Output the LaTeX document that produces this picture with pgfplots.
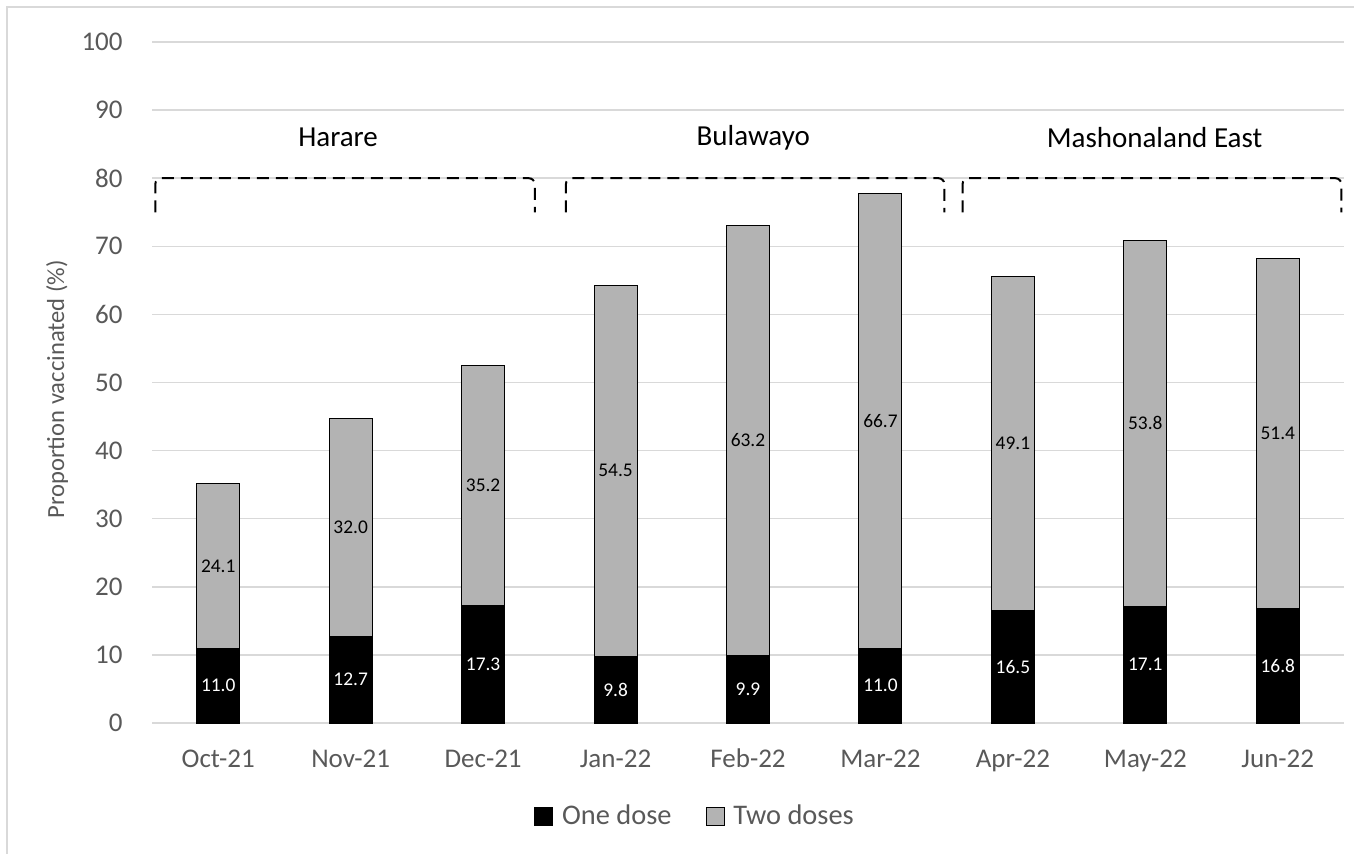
\documentclass[border=0pt]{standalone}
\usepackage{pgfplots}
\pgfplotsset{compat=1.18}
\usepackage{pgfplotstable}
\usepackage{fontspec}
\setmainfont{Carlito}
\definecolor{txt}{HTML}{595959}
\definecolor{gridc}{HTML}{D9D9D9}
\definecolor{bargray}{HTML}{B3B3B3}

\pgfplotstableread{
x one two
0 11.0 24.1
1 12.7 32.0
2 17.3 35.2
3 9.8 54.5
4 9.9 63.2
5 11.0 66.7
6 16.5 49.1
7 17.1 53.8
8 16.8 51.4
}\vacc

\begin{document}
\begin{tikzpicture}
\path[use as bounding box] (-76pt,-65pt) rectangle (601pt,361.5pt);
\draw[gridc, line width=0.75pt] (-72.5pt,-70pt) -- (-72.5pt,358pt) -- (610pt,358pt);
\begin{axis}[
    at={(0pt,0pt)}, anchor=south west,
    scale only axis,
    width=596pt, height=340.5pt,
    ybar stacked,
    bar width=21.5pt,
    xmin=-0.5, xmax=8.5,
    ymin=0, ymax=100,
    ytick={0,10,...,100},
    xtick={0,...,8},
    xticklabels={Oct-21,Nov-21,Dec-21,Jan-22,Feb-22,Mar-22,Apr-22,May-22,Jun-22},
    ymajorgrids,
    grid style={gridc, line width=0.75pt},
    axis line style={draw=none},
    major tick length=0pt,
    /pgf/number format/assume math mode=true,
    tick label style={font=\fontsize{13.5}{16}\selectfont, text=txt},
    yticklabel style={anchor=east, inner sep=0pt, xshift=-14.5pt},
    xticklabel style={anchor=base, inner sep=0pt, yshift=-22pt},
    ylabel={Proportion vaccinated (\%)},
    ylabel style={at={(axis description cs:-0.0797,0.49)}, anchor=center,
        font=\fontsize{12.3}{14}\selectfont, text=txt},
    clip=false,
    point meta=explicit,
    nodes near coords={\pgfmathprintnumber[fixed,fixed zerofill,precision=1]{\pgfplotspointmeta}},
    every node near coord/.style={anchor=center, font=\fontsize{9.7}{11}\selectfont},
    legend image code/.code={\draw[#1, line width=0.5pt] (0pt,-4.5pt) rectangle (9pt,4.5pt);
        \path (11.5pt,0pt);},
    legend style={at={(0.4564,-0.1366)}, anchor=center, draw=none, fill=none,
        legend columns=2, font=\fontsize{14.2}{17}\selectfont, text=txt,
        /tikz/every even column/.append style={column sep=15pt}},
]
\addplot[fill=black, draw=black, line width=0.5pt, forget plot,
    nodes near coords style={text=white}]
    table[x=x, y=one, meta=one] {\vacc};
\addplot[fill=bargray, draw=black, line width=0.5pt, forget plot,
    nodes near coords style={text=black}]
    table[x=x, y=two, meta=two] {\vacc};
\addlegendimage{fill=black, draw=black}
\addlegendentry{One dose}
\addlegendimage{fill=bargray, draw=black}
\addlegendentry{Two doses}

\draw[black, line width=1pt, dash pattern=on 6pt off 3.5pt, rounded corners=3pt]
    (axis cs:-0.475,75) -- (axis cs:-0.475,80) -- (axis cs:2.39,80) -- (axis cs:2.39,75);
\draw[black, line width=1pt, dash pattern=on 6pt off 3.5pt, rounded corners=3pt]
    (axis cs:2.625,75) -- (axis cs:2.625,80) -- (axis cs:5.483,80) -- (axis cs:5.483,75);
\draw[black, line width=1pt, dash pattern=on 6pt off 3.5pt, rounded corners=3pt]
    (axis cs:5.62,75) -- (axis cs:5.62,80) -- (axis cs:8.48,80) -- (axis cs:8.48,75);
\node[font=\fontsize{14.5}{17}\selectfont] at (axis cs:0.905,86) {Harare};
\node[font=\fontsize{14.5}{17}\selectfont] at (axis cs:4.04,86) {Bulawayo};
\node[font=\fontsize{14.5}{17}\selectfont] at (axis cs:7.07,86) {Mashonaland East};
\end{axis}
\end{tikzpicture}
\end{document}
